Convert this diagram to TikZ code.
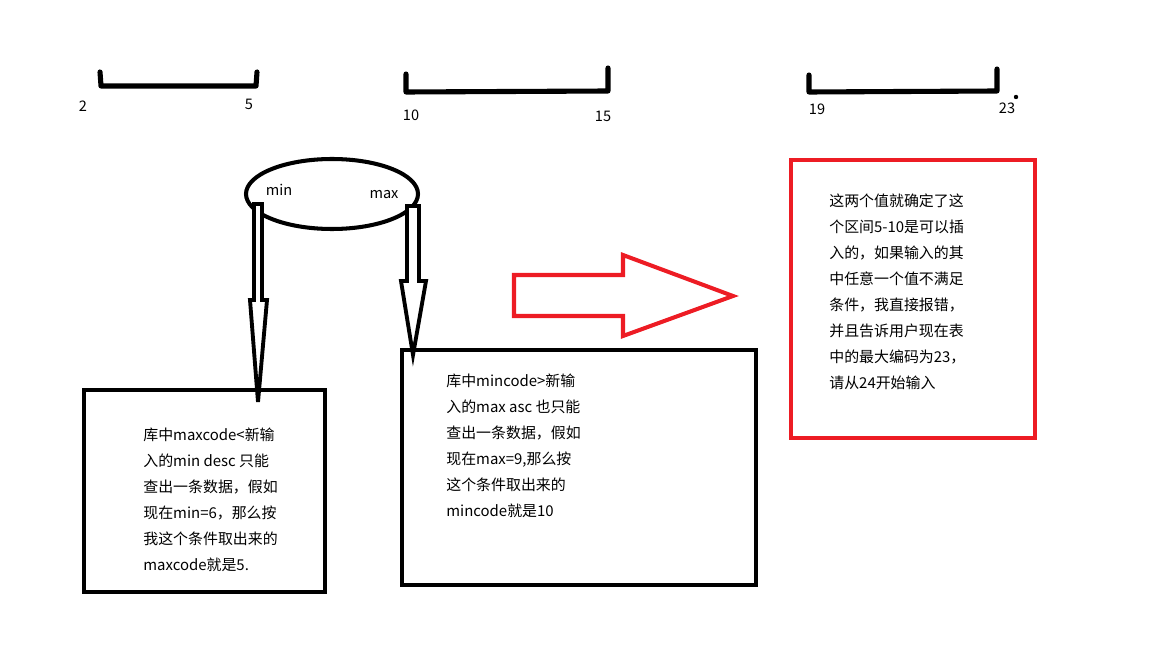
\documentclass[tikz,border=0pt]{standalone}
\usepackage{fontspec}
\setmainfont{Noto Sans CJK SC}
\usetikzlibrary{positioning}

\tikzset{
  seg/.style={line width=2.9pt, line cap=round, line join=round},
  num/.style={font=\fontsize{8.3}{10}\selectfont, inner sep=0pt},
  frame/.style={draw, line width=2.3pt, inner sep=0pt, outer sep=0pt, anchor=north west},
  note/.style={font=\fontsize{8.5}{14.8}\selectfont, align=left, anchor=north west, inner sep=0pt},
  hollow/.style={line width=2.2pt, line join=miter, fill=white},
}

\begin{document}
\begin{tikzpicture}[x=0.02cm, y=-0.02cm]
\useasboundingbox (0,0) rectangle (1152,648);

% number ranges
\draw[seg] (100,72) -- (101,86) -- (256,86) -- (257,72);
\draw[seg] (406,74) -- (406,92) -- (608,91) -- (608,68);
\draw[seg] (809,75) -- (809,92) -- (997,91) -- (997,69);
\fill (1016,97) circle (2.2);

\node[num] (n2) at (83,106) {2};
\node[num] (n5) at (249,104) {5};
\node[num] (n10) at (411,115) {10};
\node[num] (n15) at (603,116) {15};
\node[num] (n19) at (817,109) {19};
\node[num] (n23) at (1007,108) {23};

% min / max ellipse
\draw[line width=2.3pt] (332,194) ellipse (86 and 35);
\node[num] (minlbl) at (279,190) {min};
\node[num] (maxlbl) at (384,195) {max};

% boxes
\node[frame, minimum width=4.82cm, minimum height=4.04cm] (leftbox) at (84,390) {};
\node[frame, minimum width=7.08cm, minimum height=4.70cm] (midbox) at (402,350) {};
\node[frame, draw={rgb,255:red,237;green,28;blue,36}, minimum width=4.88cm, minimum height=5.56cm] (redbox) at (791,160) {};

% hollow arrows
\coordinate (mintip) at (258,402);
\coordinate (maxtip) at (413,355);
\draw[hollow] (254,204) -- (254,300) -- (250,300) -- (mintip) -- (267,300) -- (262,300) -- (262,204) -- cycle;
\draw[hollow] (407,206) -- (407,281) -- (401,281) -- (maxtip) -- (426,281) -- (419,281) -- (419,206) -- cycle;

\draw[line width=2.3pt, draw={rgb,255:red,237;green,28;blue,36}, line join=miter]
  (514,275) -- (514,316) -- (623,316) -- (623,336) -- (733,296) -- (623,255) -- (623,275) -- cycle;

% notes
\node[note] (lefttext) at (143,428) {库中maxcode<新输\\入的min desc 只能\\查出一条数据，假如\\现在min=6，那么按\\我这个条件取出来的\\maxcode就是5.};
\node[note] (midtext) at (446,374) {库中mincode>新输\\入的max asc 也只能\\查出一条数据，假如\\现在max=9,那么按\\这个条件取出来的\\mincode就是10};
\node[note] (redtext) at (829,193) {这两个值就确定了这\\个区间5-10是可以插\\入的，如果输入的其\\中任意一个值不满足\\条件，我直接报错，\\并且告诉用户现在表\\中的最大编码为23，\\请从24开始输入};
\end{tikzpicture}
\end{document}
